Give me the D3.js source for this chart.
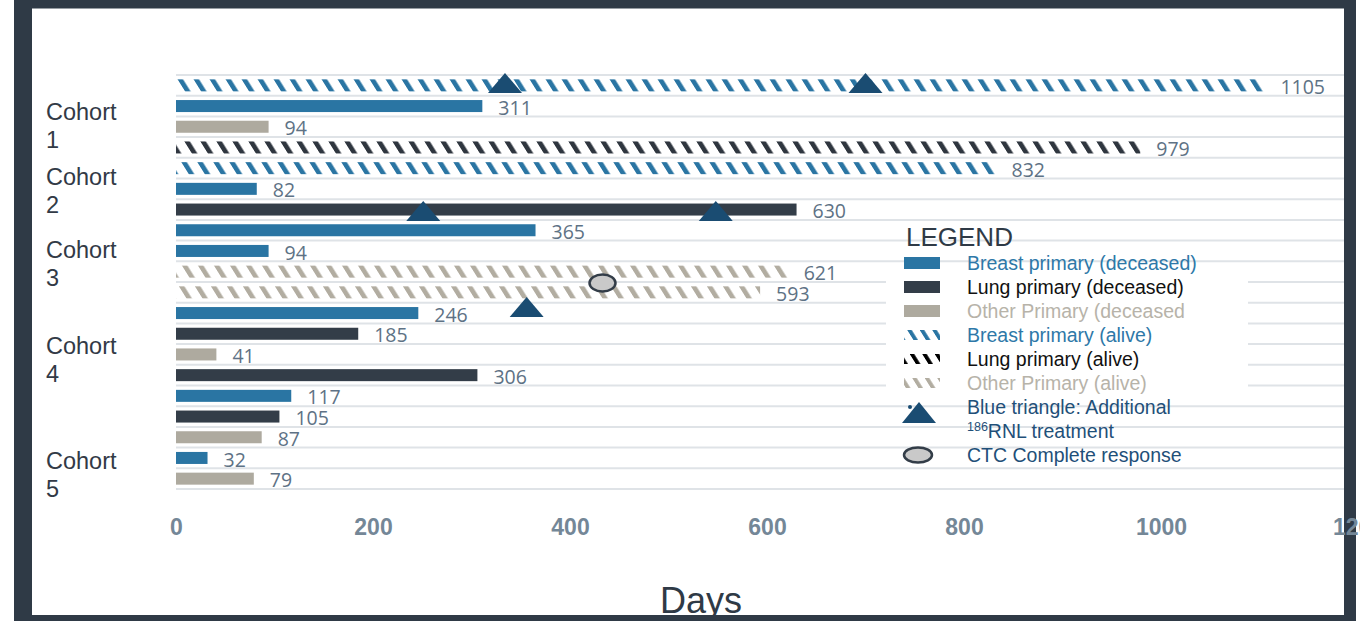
<!DOCTYPE html>
<html>
<head>
<meta charset="utf-8">
<script src="https://cdn.jsdelivr.net/npm/d3@7"></script>
<style>
  html, body { margin: 0; padding: 0; background: #ffffff; }
  svg { display: block; }
</style>
</head>
<body>
<svg id="chart" width="1360" height="621"></svg>
<script>
// Survival per patient in days, listed top row first
const days = [1105, 311, 94, 979, 832, 82, 630, 365, 94, 621, 593, 246, 185, 41, 306, 117, 105, 87, 32, 79];
const primary = ["Breast", "Breast", "Other", "Lung", "Breast", "Breast", "Lung", "Breast", "Breast", "Other",
                 "Other", "Breast", "Lung", "Other", "Lung", "Breast", "Lung", "Other", "Breast", "Other"];
const alive = [true, false, false, true, true, false, false, false, false, true,
               true, false, false, false, false, false, false, false, false, false];

// Additional 186RNL treatments: day given and vertical position in row units
const treatmentDays = [334, 700, 251, 548, 356];
const treatmentRows = [0.39, 0.39, 6.57, 6.57, 11.21];

// CTC complete response
const ctcDays = [433];
const ctcRows = [10.05];

const cohorts = ["Cohort 1", "Cohort 2", "Cohort 3", "Cohort 4", "Cohort 5"];
const xTicks = [0, 200, 400, 600, 800, 1000, 1200];
const axisTitle = "Days";

const legendTitle = "LEGEND";
const legendLabels = ["Breast primary (deceased)", "Lung primary (deceased)", "Other Primary (deceased",
                      "Breast primary (alive)", "Lung primary (alive)", "Other Primary (alive)",
                      "Blue triangle: Additional", "RNL treatment", "CTC Complete response"];

// ---- layout & styling ----
const W = 1360, H = 621;
const plotLeft = 176, plotTop = 75, plotBottom = 489, gridRight = 1344;
const cohortAnchor = [2.44, 5.56, 9.13, 13.72, 19.3];   // label block centres in row units

const solidColor = { Breast: "#2a75a3", Lung: "#333d48", Other: "#aeaa9f" };
const stripeColor = { Breast: "#2a75a3", Lung: "#2f363f", Other: "#b2ada1" };
const legendStripe = { Breast: "#2a75a3", Lung: "#000000", Other: "#b2ada1" };
const textColor = { Breast: "#2e78a8", Lung: "#111111", Other: "#b7b3a9", Marker: "#1f5079" };
const triColor = "#1a4c72";

const svg = d3.select("#chart");

const x = d3.scaleLinear().domain([0, 1200]).range([plotLeft, 1358]);
const yRow = d3.scaleLinear().domain([0, days.length]).range([plotTop, plotBottom]);
const yBand = d3.scaleBand()
  .domain(d3.range(days.length))
  .range([plotTop, plotBottom])
  .paddingInner(0.42)
  .paddingOuter(0.21);

// diagonal hatch patterns
const defs = svg.append("defs");
function hatch(id, color, period, thick) {
  const p = defs.append("pattern")
    .attr("id", id)
    .attr("patternUnits", "userSpaceOnUse")
    .attr("width", period).attr("height", 40)
    .attr("x", plotLeft)
    .attr("patternTransform", "skewX(32)");
  p.append("rect").attr("x", 0).attr("y", 0).attr("width", thick).attr("height", 40).attr("fill", color);
}
Object.keys(stripeColor).forEach(k => hatch("hatch-" + k, stripeColor[k], 16, 5.5));
Object.keys(legendStripe).forEach(k => hatch("lhatch-" + k, legendStripe[k], 12.5, 4.5));

// background
svg.append("rect").attr("width", W).attr("height", H).attr("fill", "#ffffff");

// horizontal gridlines at every row boundary
svg.append("g")
  .selectAll("line")
  .data(d3.range(days.length + 1))
  .join("line")
  .attr("x1", plotLeft).attr("x2", gridRight)
  .attr("y1", d => yRow(d)).attr("y2", d => yRow(d))
  .attr("stroke", "#dfe3e7").attr("stroke-width", 2);

// bars
svg.append("g")
  .selectAll("rect")
  .data(days)
  .join("rect")
  .attr("x", x(0))
  .attr("y", (d, i) => yBand(i))
  .attr("width", d => x(d) - x(0))
  .attr("height", yBand.bandwidth())
  .attr("fill", (d, i) => alive[i] ? `url(#hatch-${primary[i]})` : solidColor[primary[i]]);

// value labels
svg.append("g")
  .selectAll("text")
  .data(days)
  .join("text")
  .attr("x", d => x(d) + 16)
  .attr("y", (d, i) => yBand(i) + yBand.bandwidth() / 2 + 8.6)
  .attr("font-family", "'Open Sans', sans-serif")
  .attr("font-size", 19.5)
  .attr("fill", "#5e7285")
  .text(d => d);

// treatment triangles
const tri = (cx, cy, w, h) => `M${cx},${cy - h / 2}L${cx + w / 2},${cy + h / 2}L${cx - w / 2},${cy + h / 2}Z`;
svg.append("g")
  .selectAll("path")
  .data(treatmentDays)
  .join("path")
  .attr("d", (d, i) => tri(x(d), yRow(treatmentRows[i]), 34, 20))
  .attr("fill", triColor);

// CTC complete response markers
svg.append("g")
  .selectAll("ellipse")
  .data(ctcDays)
  .join("ellipse")
  .attr("cx", d => x(d))
  .attr("cy", (d, i) => yRow(ctcRows[i]))
  .attr("rx", 13).attr("ry", 8.5)
  .attr("fill", "#c9c9c9")
  .attr("stroke", "#333d48").attr("stroke-width", 2.5);

// cohort labels
const cohortG = svg.append("g")
  .attr("font-family", "'Liberation Sans', Arial, sans-serif")
  .attr("font-size", 23.5)
  .attr("fill", "#323a46");
cohorts.forEach((c, i) => {
  const [word, num] = c.split(" ");
  const cy = yRow(cohortAnchor[i]);
  const t = cohortG.append("text").attr("x", 46).attr("y", cy - 5.5);
  t.append("tspan").attr("x", 46).text(word);
  t.append("tspan").attr("x", 46).attr("dy", 28).text(num);
});

// axis title
svg.append("text")
  .attr("x", 701)
  .attr("y", 613)
  .attr("text-anchor", "middle")
  .attr("font-family", "'Liberation Sans', Arial, sans-serif")
  .attr("font-size", 36)
  .attr("fill", "#2f3a46")
  .text(axisTitle);

// legend
const lg = svg.append("g").attr("font-family", "'Liberation Sans', Arial, sans-serif");
lg.append("rect").attr("x", 886).attr("y", 281).attr("width", 362).attr("height", 122).attr("fill", "#ffffff");
lg.append("text").attr("x", 906).attr("y", 246).attr("font-size", 26).attr("fill", "#2f3a46").text(legendTitle);

const rowY = i => 263 + 24 * i;
const kinds = ["Breast", "Lung", "Other"];
kinds.forEach((k, i) => {
  lg.append("rect").attr("x", 904).attr("y", rowY(i) - 6).attr("width", 36).attr("height", 12).attr("fill", solidColor[k]);
  lg.append("rect").attr("x", 904).attr("y", rowY(i + 3) - 5).attr("width", 36).attr("height", 10).attr("fill", `url(#lhatch-${k})`);
});
legendLabels.forEach((lab, i) => {
  const colorKey = i < 6 ? kinds[i % 3] : "Marker";
  const t = lg.append("text").attr("x", 967).attr("y", rowY(i) + 6.5)
    .attr("font-size", 19.5).attr("fill", textColor[colorKey]);
  if (i === 7) {
    t.append("tspan").attr("font-size", 12.5).attr("dy", -7).text("186");
    t.append("tspan").attr("dy", 7).text(lab);
  } else {
    t.text(lab);
  }
});
lg.append("path").attr("d", tri(919, 412.5, 34, 21)).attr("fill", triColor);
lg.append("circle").attr("cx", 910).attr("cy", 407).attr("r", 2).attr("fill", triColor);
lg.append("ellipse").attr("cx", 918).attr("cy", 455).attr("rx", 14).attr("ry", 7.5)
  .attr("fill", "#c9c9c9").attr("stroke", "#333d48").attr("stroke-width", 2.5);

// dark frame around the chart
svg.append("path")
  .attr("fill-rule", "evenodd")
  .attr("fill", "#2f3a46")
  .attr("d", `M14,0H1356V621H14Z M32,8.5V615H1344V8.5Z`);

// x axis tick labels (drawn last; the final one runs over the frame)
const axis = d3.axisBottom(x).tickValues(xTicks).tickSize(0).tickFormat(d3.format("d"));
const axisG = svg.append("g").attr("transform", `translate(0,${plotBottom})`).call(axis);
axisG.select(".domain").remove();
axisG.selectAll("text")
  .attr("y", 46).attr("dy", null)
  .attr("font-family", "'Liberation Sans', Arial, sans-serif")
  .attr("font-weight", "bold")
  .attr("font-size", 23)
  .attr("fill", "#748797");
</script>
</body>
</html>
